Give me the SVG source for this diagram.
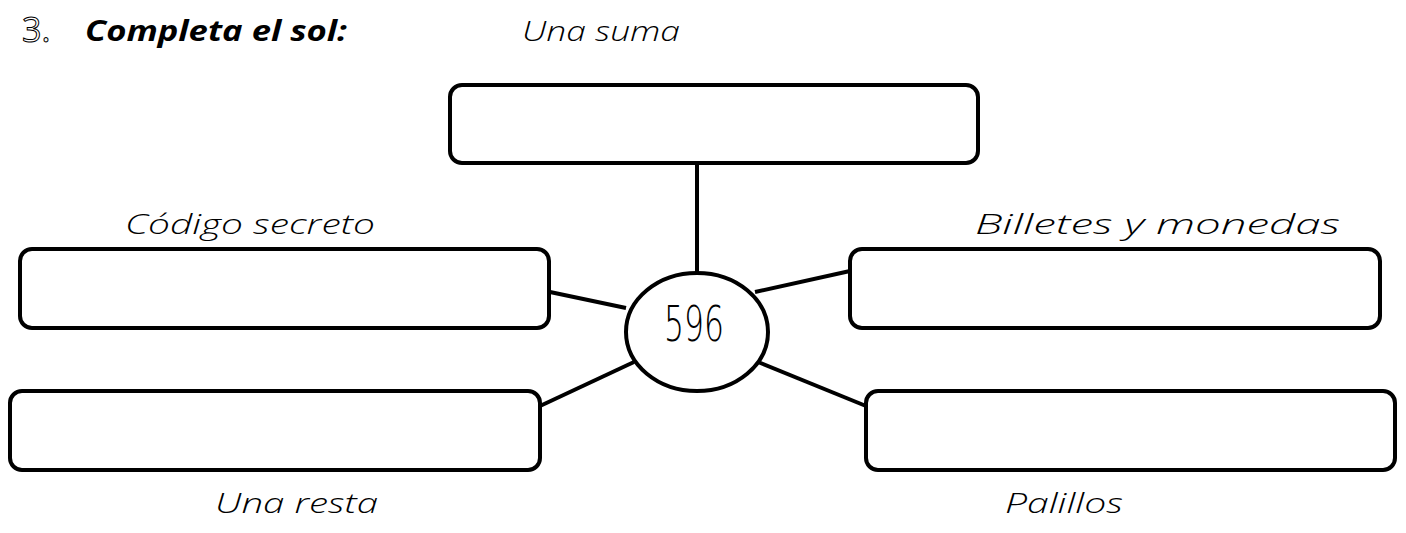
<svg xmlns="http://www.w3.org/2000/svg" width="1406" height="533" viewBox="0 0 1406 533">
<style>
.box{fill:#fff;stroke:#000;stroke-width:4}
.con line{stroke:#000;stroke-width:4;stroke-linecap:butt}
.lbl{font-family:"Open Sans","DejaVu Sans",sans-serif;font-weight:300;font-style:italic;font-size:28px;fill:#000}
</style>
<rect width="1406" height="533" fill="#fff"/>
<g id="title">
<text x="22" y="42" font-family="Open Sans, sans-serif" font-size="34" fill="#fff" stroke="#000" stroke-width="1">3.</text>
<text x="85" y="41" class="lbl" style="font-weight:700" textLength="262" lengthAdjust="spacingAndGlyphs">Completa el sol:</text>
</g>
<g class="con" id="connectors">
<line x1="697" y1="163" x2="697" y2="273"/>
<line x1="550" y1="292" x2="626" y2="308"/>
<line x1="755" y1="292" x2="850" y2="271"/>
<line x1="634" y1="362" x2="540" y2="406"/>
<line x1="758" y1="362" x2="866" y2="406"/>
</g>
<g id="center">
<ellipse cx="697" cy="332" rx="71" ry="59" class="box"/>
<text x="694" y="341" text-anchor="middle" font-family="DejaVu Sans, sans-serif" font-weight="300" font-size="50" textLength="60" lengthAdjust="spacingAndGlyphs">596</text>
</g>
<g id="suma">
<rect x="450" y="85" width="528" height="78" rx="12" class="box"/>
<text x="522" y="41" class="lbl" textLength="158" lengthAdjust="spacingAndGlyphs">Una suma</text>
</g>
<g id="codigo">
<rect x="20" y="249" width="529" height="79" rx="12" class="box"/>
<text x="125" y="234" class="lbl" textLength="250" lengthAdjust="spacingAndGlyphs">Código secreto</text>
</g>
<g id="billetes">
<rect x="850" y="249" width="530" height="79" rx="12" class="box"/>
<text x="975" y="234" class="lbl" textLength="365" lengthAdjust="spacingAndGlyphs">Billetes y monedas</text>
</g>
<g id="resta">
<rect x="10" y="391" width="530" height="79" rx="12" class="box"/>
<text x="215" y="513" class="lbl" textLength="163" lengthAdjust="spacingAndGlyphs">Una resta</text>
</g>
<g id="palillos">
<rect x="866" y="391" width="529" height="79" rx="12" class="box"/>
<text x="1005" y="513" class="lbl" textLength="118" lengthAdjust="spacingAndGlyphs">Palillos</text>
</g>
</svg>
